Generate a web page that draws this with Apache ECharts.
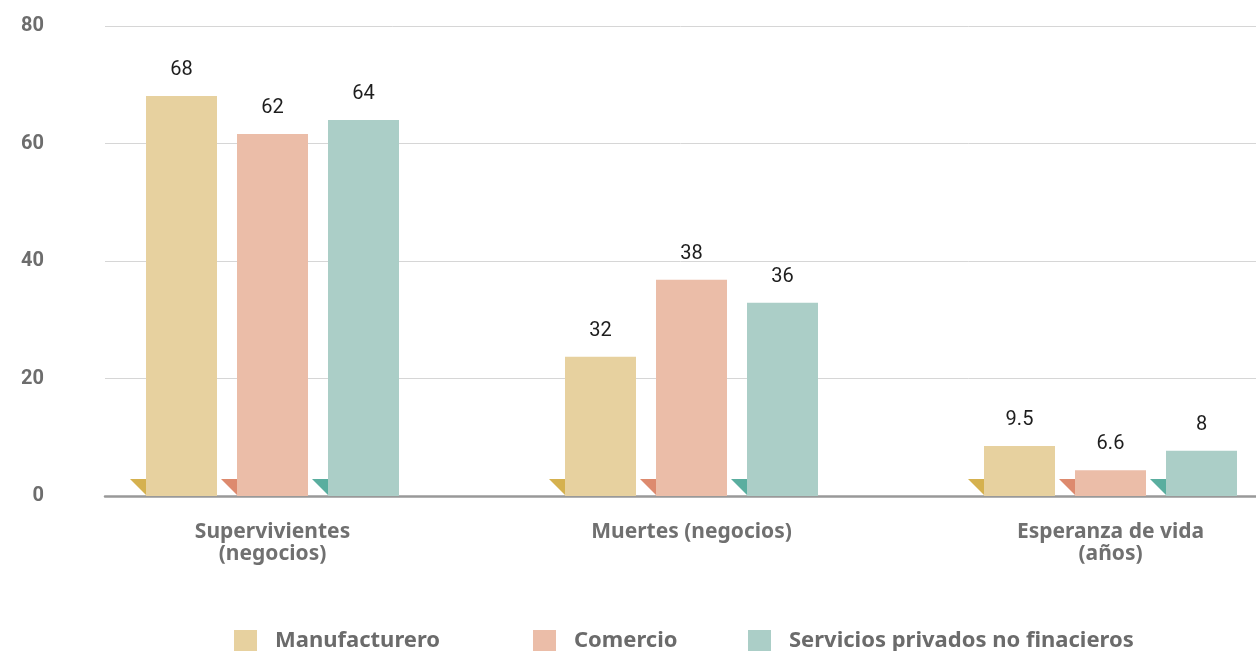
<!DOCTYPE html>
<html><head><meta charset="utf-8">
<script src="https://cdn.jsdelivr.net/npm/echarts@6/dist/echarts.min.js"></script>
<style>html,body{margin:0;padding:0;background:#fff}#c{width:1256px;height:651px}</style>
</head><body><div id="c"></div>
<script>
const categories = ['Supervivientes\n(negocios)', 'Muertes (negocios)', 'Esperanza de vida\n(años)'];
const seriesNames = ['Manufacturero', 'Comercio', 'Servicios privados no finacieros'];
const manufacturero = [68.1, 23.7, 8.5];
const comercio = [61.6, 36.8, 4.4];
const servicios = [64.0, 32.9, 7.7];
const manufactureroLabels = ['68', '32', '9.5'];
const comercioLabels = ['62', '38', '6.6'];
const serviciosLabels = ['64', '36', '8'];
const yTicks = [0, 20, 40, 60, 80];

const barColors = ['#E7D19F', '#EBBDA8', '#ABCEC7'];
const foldColors = ['#D5B14F', '#DD8A6E', '#5AAE9F'];
const BAR_W = 71, BAR_GAP = 20;

const values = [manufacturero, comercio, servicios];
const labels = [manufactureroLabels, comercioLabels, serviciosLabels];
const font = 'Roboto, "DejaVu Sans", sans-serif';
const boldFont = '"Noto Sans", "Open Sans", sans-serif';

const barSeries = values.map((v, s) => ({
  name: seriesNames[s], type: 'bar', xAxisIndex: 1, yAxisIndex: 1,
  data: v, barWidth: BAR_W, barGap: (BAR_GAP / BAR_W * 100) + '%',
  itemStyle: { color: barColors[s] },
  label: {
    show: true, position: 'top', distance: 16,
    fontFamily: font, fontSize: 20, fontWeight: 'normal', color: '#1e1e1e',
    formatter: p => labels[s][p.dataIndex]
  },
  z: 3
}));

const foldSeries = values.map((v, s) => ({
  name: 'fold' + s, type: 'custom', xAxisIndex: 1, yAxisIndex: 1,
  data: categories.map((c, i) => [i, 0]),
  renderItem: (params, api) => {
    const p = api.coord([api.value(0), 0]);
    const x0 = p[0] + (s - 1) * (BAR_W + BAR_GAP) - BAR_W / 2;
    const y0 = p[1] - 1;
    return {
      type: 'polygon',
      shape: { points: [[x0 - 16, y0 - 16], [x0, y0 - 16], [x0, y0]] },
      style: { fill: foldColors[s] }
    };
  },
  silent: true, z: 4
}));

const legendPos = [234, 533, 748];
const legends = seriesNames.map((n, i) => ({
  data: [n], left: legendPos[i], top: 630, orient: 'horizontal', padding: 0,
  icon: 'rect', itemWidth: 23, itemHeight: 22, itemGap: 0,
  selectedMode: false,
  textStyle: { fontFamily: boldFont, fontSize: 22, fontWeight: 'bold', color: '#6b6b6b', padding: [2, 0, 0, 13] }
}));

const option = {
  animation: false,
  backgroundColor: '#fff',
  legend: legends,
  grid: [
    { left: 105, right: 0, top: 26, bottom: 155, outerBoundsMode: 'none' },
    { left: 63, width: 1257, top: 26, bottom: 155, outerBoundsMode: 'none' }
  ],
  xAxis: [
    { gridIndex: 0, type: 'category', data: categories,
      axisLine: { show: true, lineStyle: { color: '#999', width: 2.5 } },
      axisTick: { show: false }, axisLabel: { show: false }, splitLine: { show: false } },
    { gridIndex: 1, type: 'category', data: categories,
      axisLine: { show: false }, axisTick: { show: false },
      axisLabel: { margin: 25, fontFamily: boldFont, fontSize: 21, fontWeight: 'bold', color: '#707070', lineHeight: 22, interval: 0 } }
  ],
  yAxis: [
    { gridIndex: 0, type: 'value', min: yTicks[0], max: yTicks[yTicks.length - 1], interval: yTicks[1] - yTicks[0],
      axisLine: { show: false }, axisTick: { show: false },
      axisLabel: { margin: 61, fontFamily: font, fontSize: 20, fontWeight: 'bold', color: '#6d6d6d' },
      splitLine: { lineStyle: { color: '#d6d6d6', width: 1 } } },
    { gridIndex: 1, type: 'value', min: yTicks[0], max: yTicks[yTicks.length - 1], interval: yTicks[1] - yTicks[0],
      show: false, splitLine: { show: false } }
  ],
  series: [...barSeries, ...foldSeries]
};
const chart = echarts.init(document.getElementById('c'), null, { renderer: 'canvas' });
chart.setOption(option);
</script></body></html>
